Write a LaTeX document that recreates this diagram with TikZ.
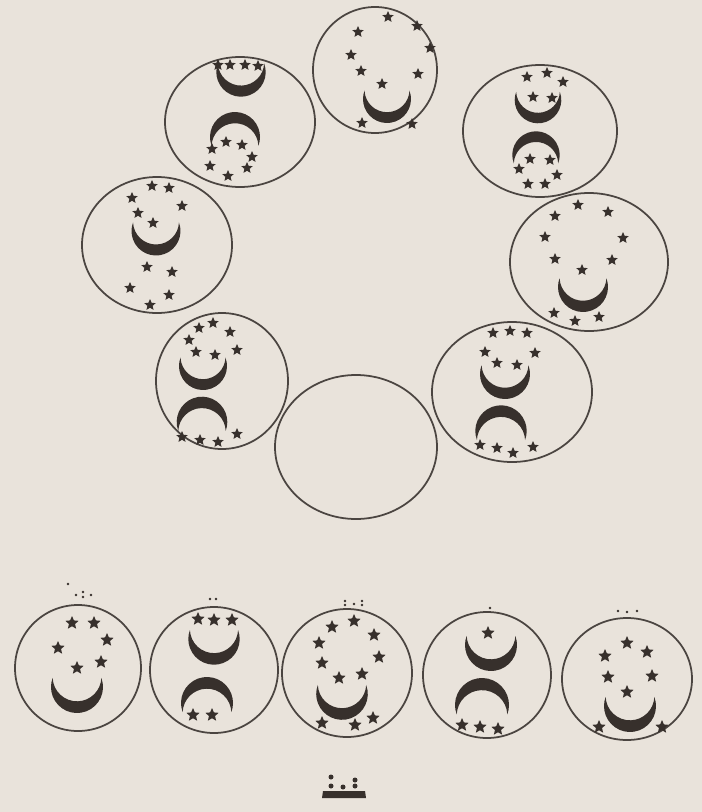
\documentclass[tikz,border=0pt]{standalone}
\definecolor{paper}{RGB}{233,227,219}
\definecolor{ink}{RGB}{55,48,44}

\begin{document}
\begin{tikzpicture}[x=0.03cm, y=-0.03cm, line width=1.5pt,
  cup/.pic={\fill[ink] (-20.49:1) arc[start angle=-20.49, end angle=200.49, radius=1]
    arc[start angle=-182.29, end angle=-357.71, radius=0.9375] -- cycle;},
  spark/.pic={\fill[ink] (-90:1) \foreach \a in {0,72,...,288} {-- (\a-54:0.46) -- (\a-18:1)} -- cycle;}]
  \fill[paper] (0,0) rectangle (702,812);

  % ring of eight and the empty one
  \foreach \x/\y/\rx/\ry in {375/70/62/63, 240/122/75/65, 540/131/77/66, 157/245/75/68,
      589/262/79/69, 222/381/66/68, 512/392/80/70, 356/447/81/72}
    \draw[ink!90] (\x,\y) ellipse [x radius=\rx, y radius=\ry];
  % bottom row
  \foreach \x/\y/\rx/\ry in {78/668/63/63, 214/670/64/63, 347/673/65/64, 487/675/64/63, 627/679/65/61}
    \draw[ink!90] (\x,\y) ellipse [x radius=\rx, y radius=\ry];

  % crescents, horns up
  \foreach \x/\y/\r in {387/99/24, 241/72/24.7, 538/100/23.3, 156/231/24.5, 583/287/25,
      203/366/24, 505/374/25, 77/687/26, 214/639/25.7, 342/694/25.8, 491/645/26, 630/706/26}
    \pic[scale=\r] at (\x,\y) {cup};
  % crescents, horns down
  \foreach \x/\y/\r in {235/137/25, 536/155/23.7, 202/422/25.3, 501/431/25.7, 207/703/26, 482/705/27}
    \pic[scale=\r, rotate=180] at (\x,\y) {cup};

  % stars in the ring
  \foreach \x/\y in {388/17, 417/26, 358/32, 430/48, 351/55, 361/71, 418/74, 382/84, 362/123, 412/124,
      218/65, 230/65, 245/65, 258/66, 226/142, 242/145, 212/149, 252/157, 210/166, 247/168, 228/176,
      527/77, 547/73, 563/82, 533/97, 552/98, 530/159, 550/160, 519/169, 557/175, 528/184, 545/184,
      152/186, 169/188, 132/198, 182/206, 138/213, 153/223, 147/267, 172/272, 130/288, 169/295, 150/305,
      578/205, 608/212, 555/216, 545/237, 623/238, 555/259, 612/260, 582/270, 554/313, 575/321, 599/317,
      213/323, 199/328, 230/332, 189/340, 237/350, 196/352, 215/355, 182/437, 200/440, 218/442, 237/434,
      493/333, 510/331, 527/333, 485/352, 535/353, 497/363, 517/365, 480/445, 497/448, 513/453, 533/447}
    \pic[scale=6] at (\x,\y) {spark};
  % stars in the bottom row
  \foreach \x/\y in {72/623, 94/623, 107/640, 58/648, 101/662, 77/668,
      198/619, 214/620, 232/620, 193/715, 212/715,
      354/621, 332/627, 374/635, 319/643, 379/657, 322/663, 339/678, 362/674, 322/723, 355/725, 373/718,
      488/633, 462/725, 480/727, 498/729,
      627/643, 605/656, 647/652, 608/677, 652/676, 627/692, 599/727, 662/727}
    \pic[scale=7] at (\x,\y) {spark};

  % dots over the bottom row
  \foreach \x/\y in {68/584, 76/595, 83/592, 83/597, 91/595, 210/599, 216/599,
      345/601, 345/605, 354/604, 362/601, 362/605, 490/608, 618/611, 627/612, 637/611}
    \fill[ink] (\x,\y) circle (1.3);

  % mark at the foot
  \fill[ink] (323,791) -- (365,791) -- (366,798) -- (322,798) -- cycle;
  \foreach \x/\y in {331/777, 331/786, 343/787, 355/780, 355/786}
    \fill[ink] (\x,\y) circle (2.5);
\end{tikzpicture}
\end{document}
